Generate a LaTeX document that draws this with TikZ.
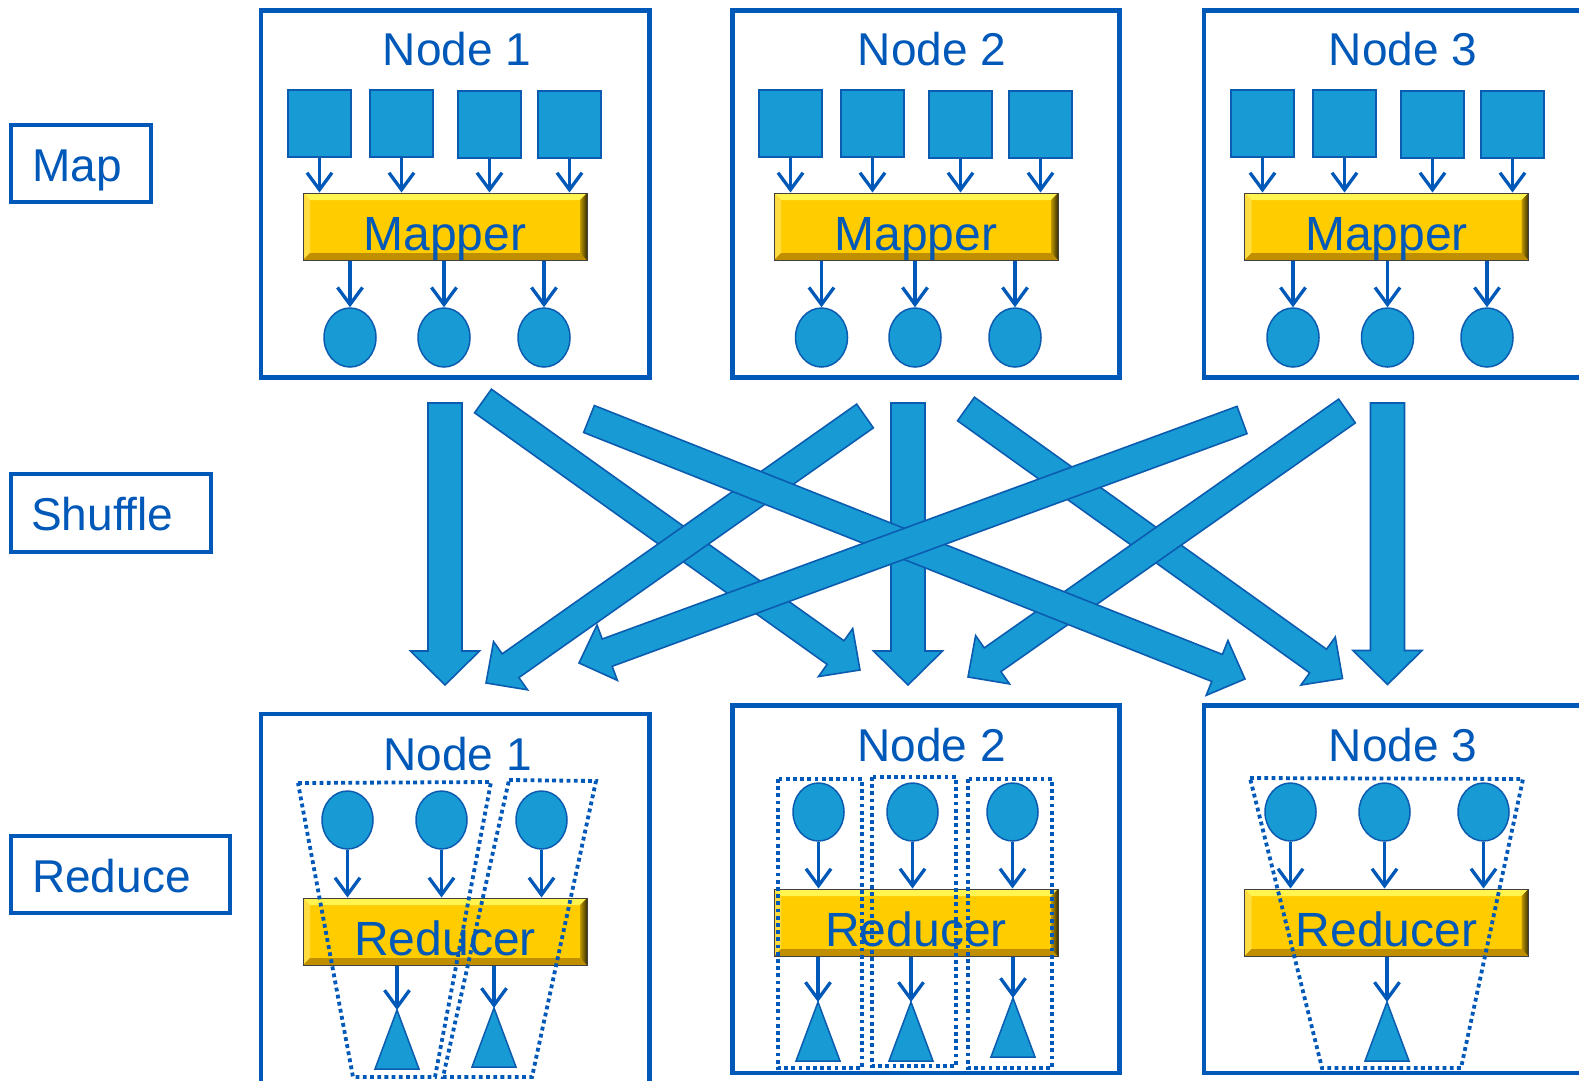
\documentclass[tikz,border=0pt]{standalone}
\usepackage{fontspec}
\setmainfont{Liberation Sans}
\usetikzlibrary{calc,arrows.meta,shapes.geometric}
\definecolor{bblue}{HTML}{0058B8}
\definecolor{sfill}{HTML}{189BD5}
\definecolor{sline}{HTML}{0B5CB0}
\definecolor{gold}{HTML}{FFCC00}
\definecolor{goldtop}{HTML}{FFF450}
\definecolor{goldleft}{HTML}{FFDD40}
\definecolor{goldbot}{HTML}{C08F00}
\definecolor{goldright}{HTML}{3A2E00}
\tikzset{
  box/.style={draw=bblue, line width=4.5pt, inner sep=0pt},
  lbl/.style={draw=bblue, line width=4.5pt, inner sep=0pt},
  txt/.style={text=bblue, font=\fontsize{46}{50}\selectfont, inner sep=0pt, anchor=base},
  btxt/.style={text=bblue, font=\fontsize{48}{52}\selectfont, inner sep=0pt, anchor=base},
  sq/.style={draw=sline, fill=sfill, line width=1.5pt, minimum width=63pt, minimum height=67pt, inner sep=0pt},
  circ/.style={draw=sline, fill=sfill, line width=1.5pt, ellipse, minimum width=52pt, minimum height=59pt, inner sep=0pt},
  shp/.style={draw=sline, fill=sfill, line width=1.5pt, line join=miter},
  smallarr/.style={draw=bblue, line width=3.3pt, -{Straight Barb[length=17pt,width=25pt]}},
  dotbox/.style={draw=bblue, line width=3.8pt, dash pattern=on 3.8pt off 3.4pt},
  bigarr/.style={draw=sline, fill=sfill, line width=1.6pt, line join=miter},
  bevel/.style={draw=black!75, line width=1pt, fill=gold, minimum width=284pt, minimum height=67pt, inner sep=0pt,
    path picture={
      \fill[goldtop] (path picture bounding box.north west) -- (path picture bounding box.north east)
        -- ([shift={(-7pt,-7pt)}]path picture bounding box.north east) -- ([shift={(7pt,-7pt)}]path picture bounding box.north west) -- cycle;
      \fill[goldleft] (path picture bounding box.north west) -- ([shift={(7pt,-7pt)}]path picture bounding box.north west)
        -- ([shift={(7pt,7pt)}]path picture bounding box.south west) -- (path picture bounding box.south west) -- cycle;
      \fill[goldbot] (path picture bounding box.south west) -- ([shift={(7pt,7pt)}]path picture bounding box.south west)
        -- ([shift={(-7pt,7pt)}]path picture bounding box.south east) -- (path picture bounding box.south east) -- cycle;
      \shade[left color=gold!75!black, right color=goldright] (path picture bounding box.north east) -- ([shift={(-7pt,-7pt)}]path picture bounding box.north east)
        -- ([shift={(-7pt,7pt)}]path picture bounding box.south east) -- (path picture bounding box.south east) -- cycle;
    }},
}
\newcommand\blockarr[6][bigarr]{%
  \path[#1] let \p1=(#2), \p2=(#3), \n1={atan2(\y2-\y1,\x2-\x1)}, \n2={veclen(\x2-\x1,\y2-\y1)} in
    [shift={(\p1)}, rotate=\n1]
    (0,{#4/2}) -- ({\n2-#6},{#4/2}) -- ({\n2-#6},{#5/2}) -- (\n2,0) -- ({\n2-#6},{-#5/2}) -- ({\n2-#6},{-#4/2}) -- (0,{-#4/2}) -- cycle;}
\begin{document}
\begin{tikzpicture}[x=1pt,y=-1pt]
\useasboundingbox (0,0) rectangle (1579,1080);
\fill[white] (0,0) rectangle (1579,1080);

% ---- stage labels
\node[lbl, minimum width=140pt, minimum height=77pt] (maplbl) at (81,163.5) {};
\node[txt, anchor=base west] (maptxt) at (32,181) {Map};
\node[lbl, minimum width=200pt, minimum height=78pt] (shuflbl) at (111,513) {};
\node[txt, anchor=base west] (shuftxt) at (31,530.5) {Shuffle};
\node[lbl, minimum width=219pt, minimum height=77pt] (redlbl) at (120.5,874.5) {};
\node[txt, anchor=base west] (redtxt) at (32,892) {Reduce};

% ---- top (map) nodes
\node[box, minimum width=388.5pt, minimum height=367pt] (top1) at (455.25,194) {};
\node[box, minimum width=387pt, minimum height=367pt] (top2) at (926,194) {};
\node[box, minimum width=388pt, minimum height=367pt] (top3) at (1398,194) {};
\node[txt] (top1t) at (457,65) {Node 1};
\node[txt] (top2t) at (932,65) {Node 2};
\node[txt] (top3t) at (1403,65) {Node 3};

% node 1
\node[sq] (s11) at (319.5,123.5) {};
\node[sq] (s12) at (401.5,123.5) {};
\node[sq] (s13) at (489.5,124.5) {};
\node[sq] (s14) at (569.5,124.5) {};
\node[bevel] (m1) at (445,226.5) {};
\node[btxt] (m1t) at (445,250) {Mapper};
\node[circ] (c11) at (350,337.5) {};
\node[circ] (c12) at (444,337.5) {};
\node[circ] (c13) at (544,337.5) {};
% node 2
\node[sq] (s21) at (790.5,123.5) {};
\node[sq] (s22) at (872.5,123.5) {};
\node[sq] (s23) at (960.5,124.5) {};
\node[sq] (s24) at (1040.5,124.5) {};
\node[bevel] (m2) at (916,226.5) {};
\node[btxt] (m2t) at (916,250) {Mapper};
\node[circ] (c21) at (821.5,337.5) {};
\node[circ] (c22) at (915,337.5) {};
\node[circ] (c23) at (1015,337.5) {};
% node 3
\node[sq] (s31) at (1262.5,123.5) {};
\node[sq] (s32) at (1344.5,123.5) {};
\node[sq] (s33) at (1432.5,124.5) {};
\node[sq] (s34) at (1512.5,124.5) {};
\node[bevel] (m3) at (1386.5,226.5) {};
\node[btxt] (m3t) at (1386.5,250) {Mapper};
\node[circ] (c31) at (1293,337.5) {};
\node[circ] (c32) at (1387.5,337.5) {};
\node[circ] (c33) at (1487,337.5) {};

\foreach \n in {1,2,3}{
  \foreach \k in {1,2,3,4}{
    \draw[smallarr] (s\n\k.south) -- (s\n\k.south |- m\n.north);
  }
  \foreach \k in {1,2,3}{
    \draw[smallarr] (c\n\k |- m\n.south) -- (c\n\k.north);
  }
}

% ---- bottom (reduce) nodes
\node[box, minimum width=388.5pt, minimum height=386pt] (bot1) at (455.25,907) {};
\node[box, minimum width=387pt, minimum height=367.5pt] (bot2) at (926,889.25) {};
\node[box, minimum width=388pt, minimum height=367.5pt] (bot3) at (1398,889.25) {};
\node[txt] (bot1t) at (457.5,770) {Node 1};
\node[txt] (bot2t) at (931.7,761.7) {Node 2};
\node[txt] (bot3t) at (1403,761.7) {Node 3};

% node 1
\node[circ, minimum width=51pt, minimum height=58pt] (b11) at (347.5,820) {};
\node[circ, minimum width=51pt, minimum height=58pt] (b12) at (441.5,820) {};
\node[circ, minimum width=51pt, minimum height=58pt] (b13) at (541.5,820) {};
\node[bevel] (r1) at (445,931.5) {};
\node[btxt] (r1t) at (445,955) {Reducer};
\coordinate (t11) at (397,1010);
\coordinate (t12) at (494,1008);
% node 2
\node[circ, minimum width=51pt, minimum height=58pt] (b21) at (818.5,812) {};
\node[circ, minimum width=51pt, minimum height=58pt] (b22) at (912.5,812) {};
\node[circ, minimum width=51pt, minimum height=58pt] (b23) at (1012.5,812) {};
\node[bevel] (r2) at (916,922.5) {};
\node[btxt] (r2t) at (916,946) {Reducer};
\coordinate (t21) at (818,1002);
\coordinate (t22) at (911,1002);
\coordinate (t23) at (1013,998);
% node 3
\node[circ, minimum width=51pt, minimum height=58pt] (b31) at (1290.5,812) {};
\node[circ, minimum width=51pt, minimum height=58pt] (b32) at (1384.5,812) {};
\node[circ, minimum width=51pt, minimum height=58pt] (b33) at (1483.5,812) {};
\node[bevel] (r3) at (1386.5,922.5) {};
\node[btxt] (r3t) at (1386.5,946) {Reducer};
\coordinate (t31) at (1387,1002);

\foreach \t in {t11,t12,t21,t22,t23,t31}{
  \draw[shp] (\t) -- ++(-22,59) -- ++(44,0) -- cycle;
}
\foreach \n in {1,2,3}{
  \foreach \k in {1,2,3}{
    \draw[smallarr] (b\n\k.south) -- (b\n\k.south |- r\n.north);
  }
}
\draw[smallarr] (t11 |- r1.south) -- (t11);
\draw[smallarr] (t12 |- r1.south) -- (t12);
\draw[smallarr] (t21 |- r2.south) -- (t21);
\draw[smallarr] (t22 |- r2.south) -- (t22);
\draw[smallarr] (t23 |- r2.south) -- (t23);
\draw[smallarr] (t31 |- r3.south) -- (t31);

% dotted groupings
\draw[dotbox] (298,783) -- (491,782) -- (435,1077) -- (353,1077) -- cycle;
\draw[dotbox] (509,780) -- (596,781) -- (532,1077) -- (443,1077) -- cycle;
\draw[dotbox] (778,779) rectangle (862,1068);
\draw[dotbox] (872,777) rectangle (956,1066);
\draw[dotbox] (968,779) rectangle (1052,1068);
\draw[dotbox] (1250,778) -- (1523,779) -- (1461,1068) -- (1322,1068) -- cycle;

% ---- shuffle arrows
\coordinate (a11s) at (445,403);   \coordinate (a11e) at (445,685);
\coordinate (a12s) at (483,401);   \coordinate (a12e) at (860,670);
\coordinate (a13s) at (589,419);   \coordinate (a13e) at (1245,679);
\coordinate (a21s) at (865,416);   \coordinate (a21e) at (486,683);
\coordinate (a22s) at (908,403);   \coordinate (a22e) at (908,685);
\coordinate (a23s) at (966,409);   \coordinate (a23e) at (1342.5,678.5);
\coordinate (a31s) at (1242,420);  \coordinate (a31e) at (579,663);
\coordinate (a32s) at (1347,411);  \coordinate (a32e) at (968,677);
\coordinate (a33s) at (1387.5,403);\coordinate (a33e) at (1387.5,684.5);

\blockarr{a11s}{a11e}{34}{69}{34}
\blockarr{a22s}{a22e}{34}{69}{34}
\blockarr{a33s}{a33e}{34}{69}{34}
\blockarr{a23s}{a23e}{29}{59}{30}
\blockarr{a32s}{a32e}{29}{59}{30}
\blockarr{a12s}{a12e}{29}{59}{30}
\blockarr{a21s}{a21e}{29}{59}{30}
\blockarr{a13s}{a13e}{29}{59}{30}
\blockarr{a31s}{a31e}{29}{59}{30}
\end{tikzpicture}
\end{document}
